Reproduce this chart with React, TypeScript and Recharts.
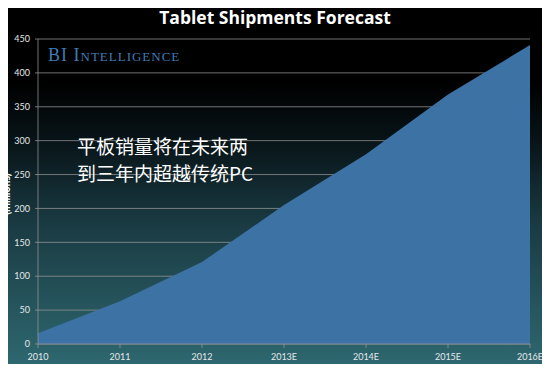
import { Area, AreaChart, CartesianGrid, XAxis, YAxis } from "recharts";

// ─── Data ────────────────────────────────────────────────────

const years = ["2010", "2011", "2012", "2013E", "2014E", "2015E", "2016E"];
const shipments = [16, 63, 121, 205, 280, 368, 441];
const yTicks = [0, 50, 100, 150, 200, 250, 300, 350, 400, 450];

const data = years.map((year, i) => ({ year, shipments: shipments[i] }));

// ─── Styles ──────────────────────────────────────────────────

const gridColor = "rgba(150,150,150,0.75)";
const tickStyle = { fill: "#e4e8ea", fontSize: 9, fontFamily: "Lato, sans-serif" };

export default function App() {
  return (
    <div
      style={{
        position: "relative",
        width: 550,
        height: 372,
        margin: -8,
        overflow: "hidden",
        background:
          "linear-gradient(180deg, #000 0%, #000 22%, #081418 38%, #1a3a42 60%, #2f6a72 100%)",
        fontFamily: "Lato, sans-serif",
      }}
    >
      <AreaChart
        width={550}
        height={372}
        data={data}
        margin={{ top: 39, right: 20, left: 0, bottom: 0 }}
      >
        <CartesianGrid stroke={gridColor} vertical={false} />
        <XAxis
          dataKey="year"
          height={28}
          tick={{ ...tickStyle, dy: 4 }}
          tickSize={4}
          tickLine={{ stroke: gridColor }}
          axisLine={{ stroke: gridColor }}
          interval={0}
        />
        <YAxis
          width={38}
          domain={[0, 450]}
          ticks={yTicks}
          tick={{ ...tickStyle, dx: -3 }}
          tickSize={3}
          tickLine={{ stroke: gridColor }}
          axisLine={{ stroke: gridColor }}
          interval={0}
        />
        <Area
          type="linear"
          dataKey="shipments"
          stroke="none"
          fill="#3d72a4"
          fillOpacity={1}
          isAnimationActive={false}
        />
      </AreaChart>

      <div
        style={{
          position: "absolute",
          top: 5,
          left: 0,
          width: 550,
          textAlign: "center",
          color: "#fff",
          fontFamily: "'Open Sans', sans-serif",
          fontWeight: 700,
          fontSize: 17.5,
        }}
      >
        Tablet Shipments Forecast
      </div>

      <div
        style={{
          position: "absolute",
          top: 45,
          left: 48,
          color: "#3f7cb5",
          fontFamily: "'Liberation Serif', serif",
          fontVariant: "small-caps",
          fontSize: 18,
          letterSpacing: 1,
        }}
      >
        BI Intelligence
      </div>

      <div
        style={{
          position: "absolute",
          top: 132,
          left: 77,
          color: "#fff",
          fontFamily: "'Noto Sans CJK SC', sans-serif",
          fontSize: 19,
          lineHeight: "27px",
        }}
      >
        平板销量将在未来两
        <br />
        到三年内超越传统PC
      </div>

      <div
        style={{
          position: "absolute",
          left: -24,
          top: 187,
          width: 60,
          height: 14,
          lineHeight: "14px",
          textAlign: "center",
          transform: "rotate(-90deg)",
          color: "#fff",
          fontWeight: 700,
          fontSize: 10.5,
          whiteSpace: "nowrap",
        }}
      >
        (millions)
      </div>
    </div>
  );
}
